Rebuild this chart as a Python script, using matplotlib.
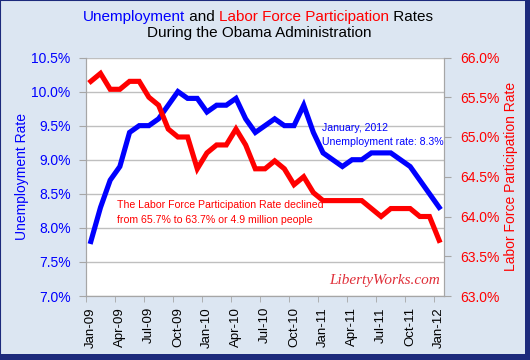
import numpy as np
import matplotlib
matplotlib.use('Agg')
import matplotlib.pyplot as plt
from matplotlib import font_manager
from matplotlib.patches import Rectangle

# monthly data, Jan-09 .. Jan-12
tick_labels = ['Jan-09', 'Apr-09', 'Jul-09', 'Oct-09', 'Jan-10', 'Apr-10', 'Jul-10',
               'Oct-10', 'Jan-11', 'Apr-11', 'Jul-11', 'Oct-11', 'Jan-12']
unemployment = [7.8, 8.3, 8.7, 8.9, 9.4, 9.5, 9.5, 9.6, 9.8, 10.0, 9.9, 9.9,
                9.7, 9.8, 9.8, 9.9, 9.6, 9.4, 9.5, 9.6, 9.5, 9.5, 9.8, 9.4,
                9.1, 9.0, 8.9, 9.0, 9.0, 9.1, 9.1, 9.1, 9.0, 8.9, 8.7, 8.5,
                8.3]
participation = [65.7, 65.8, 65.6, 65.6, 65.7, 65.7, 65.5, 65.4, 65.1, 65.0, 65.0, 64.6,
                 64.8, 64.9, 64.9, 65.1, 64.9, 64.6, 64.6, 64.7, 64.6, 64.4, 64.5, 64.3,
                 64.2, 64.2, 64.2, 64.2, 64.2, 64.1, 64.0, 64.1, 64.1, 64.1, 64.0, 64.0,
                 63.7]
left_ticks = [7.0, 7.5, 8.0, 8.5, 9.0, 9.5, 10.0, 10.5]
right_ticks = [63.0, 63.5, 64.0, 64.5, 65.0, 65.5, 66.0]

BLUE = '#0000ff'
RED = '#ff0000'
BG = '#dce6f2'
NAVY = '#1c2a7c'

names = {f.name for f in font_manager.fontManager.ttflist}
plt.rcParams['font.family'] = ['Liberation Sans', 'DejaVu Sans']
narrow = 'Liberation Sans Narrow' if 'Liberation Sans Narrow' in names else 'Liberation Sans'

x = np.arange(len(unemployment))

fig = plt.figure(figsize=(5.3, 3.6), dpi=100, facecolor=BG)
ax = fig.add_axes([86 / 530, 1 - 296 / 360, (444 - 86) / 530, (296 - 57.5) / 360])
ax2 = ax.twinx()

ax.plot(x, unemployment, color=BLUE, lw=3.7, solid_joinstyle='miter', zorder=3)
ax2.plot(x, participation, color=RED, lw=3.7, solid_joinstyle='miter', zorder=3)

ax.set_xlim(-0.5, len(x) - 0.5)
ax.set_ylim(7.0, 10.5)
ax2.set_ylim(63.0, 66.0)

ax.set_xticks(np.arange(0, len(x), 3))
ax.set_xticklabels(tick_labels, rotation=90, fontsize=9.5)
ax.set_xticks(np.arange(-0.5, len(x) - 1, 3), minor=True)
ax.tick_params(axis='x', which='major', length=0, pad=8)
ax.tick_params(axis='x', which='minor', length=4, color='#a6a6a6')

ax.set_yticks(left_ticks)
ax.set_yticklabels(['%.1f%%' % v for v in left_ticks], fontsize=10, color=BLUE)
ax.tick_params(axis='y', length=5, color='#a6a6a6', pad=6)
ax2.set_yticks(right_ticks)
ax2.set_yticklabels(['%.1f%%' % v for v in right_ticks], fontsize=10, color=RED)
ax2.tick_params(axis='y', length=5, color='#a6a6a6', pad=7)

ax.grid(axis='y', color='#bfbfbf', lw=1)
ax.set_axisbelow(True)
for a in (ax, ax2):
    for s in a.spines.values():
        s.set_color('#a6a6a6')
    a.spines['top'].set_visible(False)

ax.set_ylabel('Unemployment Rate', color=BLUE, fontsize=10, labelpad=1.5)
ax2.set_ylabel('Labor Force Participation Rate', color=RED, fontsize=10, labelpad=3)

# annotations
ax.text(2.7, 8.225, 'The Labor Force Participation Rate declined\nfrom 65.7% to 63.7% or 4.9 million people',
        color=RED, fontsize=7.6, family=narrow, va='center', linespacing=1.55)
ax.text(23.9, 9.36, 'January, 2012\nUnemployment rate: 8.3%',
        color=BLUE, fontsize=7.6, family=narrow, va='center', linespacing=1.55)
ax.text(30.4, 7.23, 'LibertyWorks.com', color='#e0303a', fontsize=11,
        family='Liberation Serif', style='italic', ha='center', va='center')

# two-colour title
parts = [('Unemployment', BLUE), (' and ', 'black'),
         ('Labor Force Participation', RED), (' Rates', 'black')]
prev = fig.text(83 / 530, 1 - 21 / 360, parts[0][0], color=parts[0][1], fontsize=11)
for txt, col in parts[1:]:
    prev = plt.annotate(txt, xy=(1, 0), xycoords=prev, color=col, fontsize=11,
                        va='bottom', ha='left', annotation_clip=False)
fig.text(0.49, 1 - 33 / 360, 'During the Obama Administration', fontsize=11,
         ha='center', va='center')

# frame
fig.patches.append(Rectangle((0, 0), 1, 1, transform=fig.transFigure, fill=False,
                             edgecolor=NAVY, lw=1.5))
fig.patches.append(Rectangle((0, 0), 1, 6 / 360, transform=fig.transFigure,
                             facecolor=NAVY, edgecolor='none'))
fig.patches.append(Rectangle(((530 - 5) / 530, 0), 5 / 530, 1, transform=fig.transFigure,
                             facecolor=NAVY, edgecolor='none'))

fig.savefig('out.png', dpi=100, facecolor=BG)
